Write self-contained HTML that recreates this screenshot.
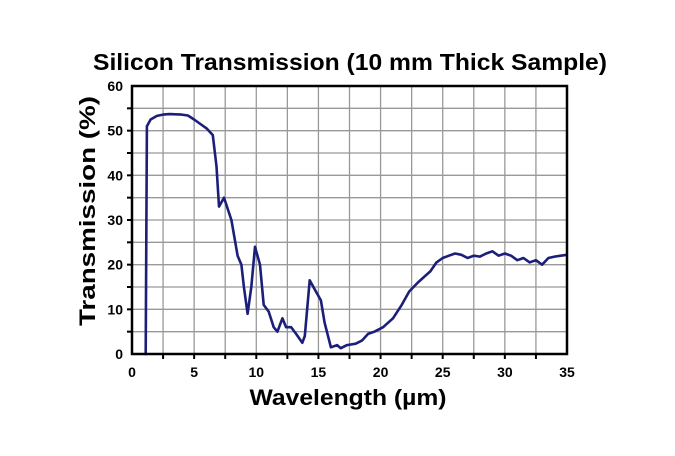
<!DOCTYPE html>
<html><head><meta charset="utf-8"><style>
body{margin:0;background:#fff;font-family:"Liberation Sans",sans-serif}
</style></head><body>
<svg width="675" height="451" viewBox="0 0 675 451">
<text x="350" y="70" text-anchor="middle" font-size="23" font-weight="bold" textLength="514" lengthAdjust="spacingAndGlyphs">Silicon Transmission (10 mm Thick Sample)</text>
<g id="grid"></g>
<g id="ticks"></g>
<path id="line" fill="none" stroke="#1c1f7a" stroke-width="2.6" stroke-linejoin="round"/>
<rect x="132" y="86" width="435" height="268" fill="none" stroke="#000" stroke-width="2.5"/>
<text x="348" y="405" text-anchor="middle" font-size="22" font-weight="bold" textLength="197" lengthAdjust="spacingAndGlyphs">Wavelength (µm)</text>
<text transform="translate(95,211) rotate(-90)" text-anchor="middle" font-size="22" font-weight="bold" textLength="230" lengthAdjust="spacingAndGlyphs">Transmission (%)</text>
</svg>
<script>
const xs=[1.0,1.1,1.2,1.5,2,2.5,3,4,4.5,5,5.5,6,6.5,6.8,7,7.4,8,8.5,8.8,9,9.3,9.6,9.9,10.3,10.6,11,11.4,11.7,12.1,12.4,12.8,13.2,13.7,13.9,14.3,14.8,15.2,15.5,16,16.5,16.8,17.3,18,18.5,19,19.5,20.2,21,21.7,22.3,23,23.6,24,24.5,25,25.5,26,26.5,27,27.5,28,28.5,29,29.5,30,30.5,31,31.5,32,32.5,33,33.5,34,34.5,35];
const ys=[0,0,51,52.5,53.3,53.6,53.7,53.6,53.4,52.5,51.5,50.5,49,42,33,35,30,22,20,15,9,15,24,20,11,9.5,6,5,8,6,6,4.5,2.5,4,16.5,14,12,7,1.5,2,1.3,2,2.3,3,4.5,5,6,8,11,14,16,17.5,18.5,20.5,21.5,22,22.5,22.2,21.5,22,21.8,22.5,23,22,22.5,22,21,21.5,20.5,21,20,21.5,21.8,22,22.2];
const xTicks=[0,5,10,15,20,25,30,35];
const yTicks=[0,10,20,30,40,50,60];
const X=v=>132+v/35*435, Y=v=>354-v/60*268;
const ns="http://www.w3.org/2000/svg";
const g=document.getElementById('grid'),t=document.getElementById('ticks');
function mk(p,tag,a){const e=document.createElementNS(ns,tag);for(const k in a)e.setAttribute(k,a[k]);p.appendChild(e);return e;}
for(let v=2.5;v<35;v+=2.5){const l=mk(g,'line',{x1:X(v),x2:X(v),y1:86,y2:354,stroke:'#999','stroke-width':1.3});


mk(t,'line',{x1:X(v),x2:X(v),y1:354,y2:359,stroke:'#000','stroke-width':2});}
for(let v=5;v<60;v+=5){const l=mk(g,'line',{x1:132,x2:567,y1:Y(v),y2:Y(v),stroke:'#999','stroke-width':1.3});


mk(t,'line',{x1:127,x2:132,y1:Y(v),y2:Y(v),stroke:'#000','stroke-width':2});}
xTicks.forEach(v=>{const e=mk(t,'text',{x:X(v),y:377,'text-anchor':'middle','font-size':14,'font-weight':'bold'});e.textContent=v;

});
yTicks.forEach(v=>{const e=mk(t,'text',{x:123,y:Y(v)+5,'text-anchor':'end','font-size':14,'font-weight':'bold'});e.textContent=v;

});
document.getElementById('line').setAttribute('d',xs.map((x,i)=>(i?'L':'M')+X(x).toFixed(1)+','+Y(ys[i]).toFixed(1)).join(''));
</script>
</body></html>
